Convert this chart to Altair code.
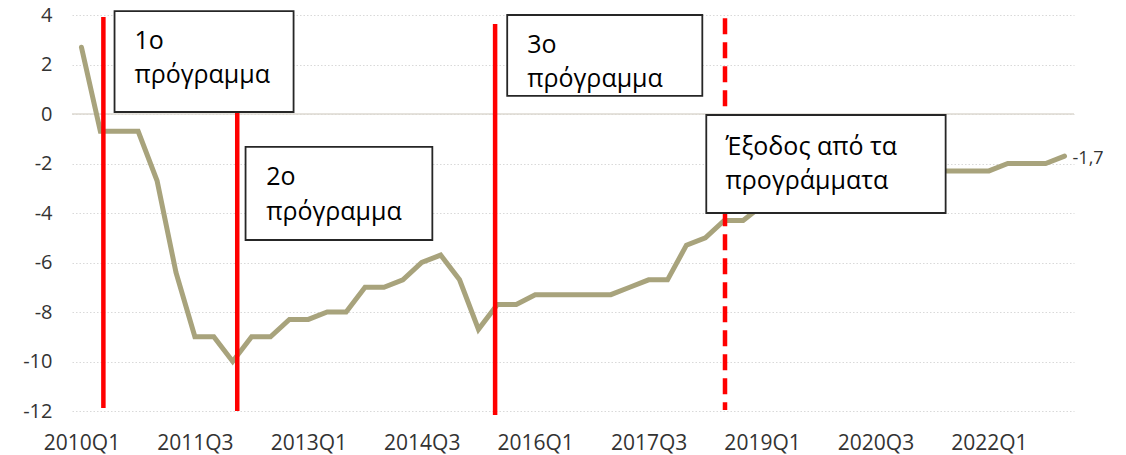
import json
import altair as alt
import pandas as pd

# ---- data ----
quarters = [
    "2010Q1", "2010Q2", "2010Q3", "2010Q4", "2011Q1", "2011Q2", "2011Q3", "2011Q4",
    "2012Q1", "2012Q2", "2012Q3", "2012Q4", "2013Q1", "2013Q2", "2013Q3", "2013Q4",
    "2014Q1", "2014Q2", "2014Q3", "2014Q4", "2015Q1", "2015Q2", "2015Q3", "2015Q4",
    "2016Q1", "2016Q2", "2016Q3", "2016Q4", "2017Q1", "2017Q2", "2017Q3", "2017Q4",
    "2018Q1", "2018Q2", "2018Q3", "2018Q4", "2019Q1", "2019Q2", "2019Q3", "2019Q4",
    "2020Q1", "2020Q2", "2020Q3", "2020Q4", "2021Q1", "2021Q2", "2021Q3", "2021Q4",
    "2022Q1", "2022Q2", "2022Q3", "2022Q4", "2023Q1",
]
values = [
    2.7, -0.7, -0.7, -0.7, -2.7, -6.4, -9.0, -9.0,
    -10.0, -9.0, -9.0, -8.3, -8.3, -8.0, -8.0, -7.0,
    -7.0, -6.7, -6.0, -5.7, -6.7, -8.7, -7.7, -7.7,
    -7.3, -7.3, -7.3, -7.3, -7.3, -7.0, -6.7, -6.7,
    -5.3, -5.0, -4.3, -4.3, -3.7, -3.3, -3.0, -3.0,
    -2.7, -2.7, -2.3, -2.3, -2.3, -2.3, -2.3, -2.3,
    -2.3, -2.0, -2.0, -2.0, -1.7,
]
tick_positions = [0, 6, 12, 18, 24, 30, 36, 42, 48]
y_ticks = [4, 2, 0, -2, -4, -6, -8, -10, -12]

# programme markers (quarter index position, top, bottom, dashed)
marker_x = [1.16, 8.24, 21.88, 34.04]
marker_top = [3.92, 3.9, 3.64, 3.87]
marker_bottom = [-11.88, -12.0, -12.16, -11.96]
marker_dashed = [False, False, False, True]

# annotation boxes
box_x = [1.75, 8.68, 22.52, 33.05]
box_x2 = [11.22, 18.56, 32.84, 45.71]
box_y = [4.16, -1.33, 4.0, -0.04]
box_y2 = [0.08, -5.09, 0.73, -4.0]
box_lines = [
    ["1ο", "πρόγραμμα"],
    ["2ο", "πρόγραμμα"],
    ["3ο", "πρόγραμμα"],
    ["Έξοδος από τα", "προγράμματα"],
]
box_text_x = [2.80, 9.77, 23.58, 34.07]
box_text_y = [[2.61, 1.25], [-2.87, -4.28], [2.48, 1.08], [-1.66, -3.04]]

FONT = "Open Sans"
LINE_COLOR = "#A8A37C"
LABEL_COLOR = "#333333"

df = pd.DataFrame({"i": list(range(len(values))), "q": quarters, "v": values})
markers = pd.DataFrame({"x": marker_x, "top": marker_top, "bottom": marker_bottom,
                        "dashed": marker_dashed})
boxes = pd.DataFrame({"x": box_x, "x2": box_x2, "y": box_y, "y2": box_y2})
texts = pd.DataFrame([
    {"x": box_text_x[b], "y": box_text_y[b][k], "t": box_lines[b][k]}
    for b in range(len(box_lines)) for k in range(len(box_lines[b]))
])
end_df = pd.DataFrame({"i": [len(values) - 1], "v": [values[-1]],
                       "t": [str(values[-1]).replace(".", ",")]})

xscale = alt.Scale(domain=[-0.5, len(values) - 0.5], nice=False, zero=False)
yscale = alt.Scale(domain=[-12, 4], nice=False)

label_expr = json.dumps(quarters) + "[datum.value]"

x_axis = alt.Axis(values=tick_positions, labelExpr=label_expr, grid=False, ticks=False,
                  domain=False, labelFont=FONT, labelFontSize=21, labelColor=LABEL_COLOR,
                  labelPadding=21, title=None, labelFlush=False, labelOverlap=False)
y_axis = alt.Axis(values=y_ticks, labelExpr="'' + datum.value", grid=True,
                  gridColor="#D9D9D9", gridDash=[1.5, 2], gridWidth=1.2, ticks=False,
                  domain=False, labelFont=FONT, labelFontSize=20, labelColor=LABEL_COLOR,
                  labelPadding=20, title=None)

base = alt.Chart(df)

line = base.mark_line(color=LINE_COLOR, strokeWidth=5, strokeJoin="miter",
                      strokeCap="round").encode(
    x=alt.X("i:Q", scale=xscale, axis=x_axis),
    y=alt.Y("v:Q", scale=yscale, axis=y_axis),
)

zero_rule = alt.Chart(pd.DataFrame({"y": [0]})).mark_rule(color="#DDD8D0", strokeWidth=1.5).encode(
    y=alt.Y("y:Q", scale=yscale),
)

solid_markers = alt.Chart(markers[~markers["dashed"]]).mark_rule(
    color="#FF0000", strokeWidth=4.5).encode(
    x=alt.X("x:Q", scale=xscale), y=alt.Y("top:Q", scale=yscale), y2="bottom:Q")
dashed_markers = alt.Chart(markers[markers["dashed"]]).mark_rule(
    color="#FF0000", strokeWidth=4.5, strokeDash=[16, 8]).encode(
    x=alt.X("x:Q", scale=xscale), y=alt.Y("top:Q", scale=yscale), y2="bottom:Q")

box_marks = alt.Chart(boxes).mark_rect(fill="white", stroke="#262626", strokeWidth=1.8).encode(
    x=alt.X("x:Q", scale=xscale), x2="x2:Q",
    y=alt.Y("y:Q", scale=yscale), y2="y2:Q")

box_text = alt.Chart(texts).mark_text(align="left", baseline="alphabetic", font=FONT,
                                      fontSize=25, color="#000000").encode(
    x=alt.X("x:Q", scale=xscale), y=alt.Y("y:Q", scale=yscale), text="t:N")

end_label = alt.Chart(end_df).mark_text(align="left", baseline="middle", font=FONT,
                                        fontSize=18, color=LABEL_COLOR, dx=8, dy=3).encode(
    x=alt.X("i:Q", scale=xscale), y=alt.Y("v:Q", scale=yscale), text="t:N")

chart = alt.layer(
    zero_rule, line, solid_markers, dashed_markers, box_marks, box_text, end_label
).properties(
    width=1002, height=396,
    autosize=alt.AutoSizeParams(type="none"),
    padding={"left": 64, "top": 7, "right": 40, "bottom": 44},
).configure_view(stroke=None)

chart.save("out.html", embed_options={"renderer": "svg", "actions": False})
